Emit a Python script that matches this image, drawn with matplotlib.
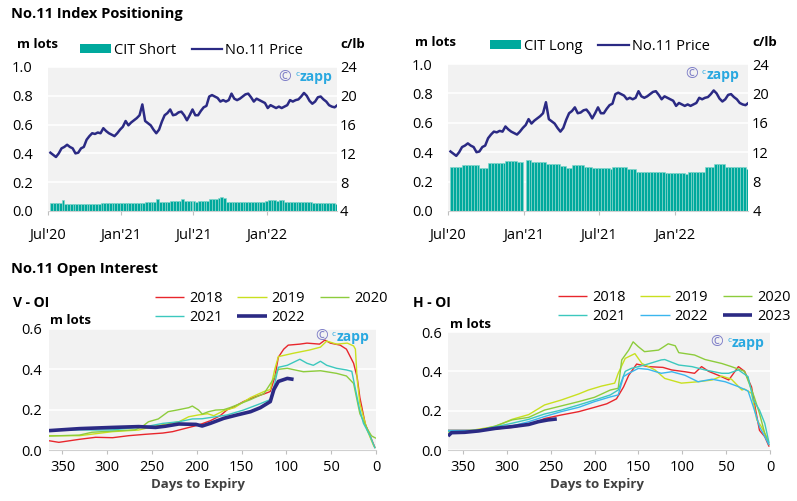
import numpy as np
import pandas as pd
import matplotlib
matplotlib.use("Agg")
import matplotlib.pyplot as plt
from matplotlib.patches import Patch

plt.rcParams["font.family"] = ["Open Sans", "DejaVu Sans"]

W, H = 797, 501

TEAL = "#00a99d"
TEAL_EDGE = "#86d6cc"
NAVY = "#2b2a84"
BG = "#f2f2f2"

# ---- Index positioning (weekly) ----
week_start = "2020-07-07"
cit_short = [
    0.058, 0.058, 0.058, 0.058, 0.075, 0.047, 0.047, 0.050, 0.047, 0.047,
    0.050, 0.047, 0.050, 0.050, 0.050, 0.052, 0.052, 0.052, 0.055, 0.058,
    0.058, 0.058, 0.058, 0.058, 0.058, 0.058, 0.058, 0.058, 0.058, 0.058,
    0.058, 0.058, 0.057, 0.057, 0.060, 0.060, 0.062, 0.065, 0.080, 0.062,
    0.062, 0.062, 0.065, 0.068, 0.068, 0.068, 0.068, 0.080, 0.070, 0.070,
    0.068, 0.066, 0.065, 0.070, 0.070, 0.070, 0.072, 0.080, 0.082, 0.085,
    0.090, 0.095, 0.092, 0.065, 0.065, 0.065, 0.065, 0.065, 0.065, 0.065,
    0.065, 0.065, 0.065, 0.065, 0.065, 0.065, 0.065, 0.068, 0.075, 0.075,
    0.075, 0.072, 0.075, 0.075, 0.065, 0.065, 0.065, 0.065, 0.065, 0.060,
    0.060, 0.060, 0.060, 0.060, 0.058, 0.058, 0.058, 0.058, 0.058, 0.058,
    0.058, 0.058, 0.050, 0.050,
]
cit_long = [
    0.300, 0.300, 0.300, 0.300, 0.310, 0.310, 0.310, 0.310, 0.310, 0.310,
    0.295, 0.295, 0.295, 0.325, 0.325, 0.325, 0.325, 0.325, 0.325, 0.340,
    0.340, 0.340, 0.340, 0.335, 0.335, 0.000, 0.347, 0.347, 0.330, 0.330,
    0.330, 0.330, 0.330, 0.320, 0.320, 0.320, 0.320, 0.320, 0.306, 0.306,
    0.290, 0.290, 0.310, 0.310, 0.310, 0.310, 0.300, 0.300, 0.300, 0.295,
    0.295, 0.295, 0.295, 0.295, 0.295, 0.285, 0.300, 0.300, 0.300, 0.300,
    0.300, 0.283, 0.283, 0.283, 0.268, 0.268, 0.268, 0.268, 0.268, 0.268,
    0.268, 0.268, 0.268, 0.268, 0.260, 0.260, 0.260, 0.260, 0.260, 0.260,
    0.260, 0.252, 0.268, 0.268, 0.268, 0.268, 0.268, 0.268, 0.297, 0.297,
    0.297, 0.320, 0.320, 0.320, 0.320, 0.300, 0.300, 0.300, 0.300, 0.300,
    0.300, 0.300, 0.288, 0.288,
]
price = [
    12.1, 11.8, 11.5, 12.0, 12.7, 12.9, 13.2, 12.9, 12.7, 12.0,
    12.1, 12.7, 12.9, 13.9, 14.4, 14.8, 14.7, 14.9, 14.8, 15.5,
    15.1, 14.8, 14.6, 14.4, 14.8, 15.3, 15.7, 16.5, 15.9, 16.3,
    16.6, 16.9, 17.3, 18.8, 16.5, 16.2, 15.9, 15.3, 14.8, 15.3,
    16.4, 17.3, 17.6, 18.1, 17.3, 17.4, 17.7, 17.8, 17.3, 16.6,
    17.3, 18.1, 17.3, 17.3, 17.9, 18.4, 18.6, 19.9, 20.1, 19.9,
    19.7, 19.2, 19.4, 19.2, 19.4, 20.3, 19.6, 19.4, 19.6, 19.9,
    20.2, 20.3, 19.8, 19.2, 19.6, 19.4, 19.2, 19.0, 18.3, 18.7,
    18.5, 18.3, 18.5, 18.3, 18.5, 18.7, 19.4, 19.2, 19.4, 19.5,
    19.9, 20.4, 20.0, 19.3, 18.9, 19.2, 19.8, 19.9, 19.5, 19.2,
    18.7, 18.5, 18.4, 18.7,
]
date_ticks = ["2020-07-01", "2021-01-01", "2021-07-01", "2022-01-01"]
date_labels = ["Jul'20", "Jan'21", "Jul'21", "Jan'22"]

# ---- V open interest ----
v2018_days = [365, 354, 331, 313, 294, 276, 257, 238, 227, 213, 198, 185, 174, 166, 158, 148, 136, 125, 118, 113, 109, 103, 98, 85, 77, 63, 57, 51, 40, 33, 25, 21, 18, 12, 7, 1]
v2018 = [0.046, 0.038, 0.053, 0.063, 0.061, 0.071, 0.078, 0.084, 0.091, 0.107, 0.124, 0.145, 0.17, 0.20, 0.215, 0.24, 0.262, 0.278, 0.29, 0.36, 0.46, 0.50, 0.52, 0.525, 0.53, 0.525, 0.545, 0.53, 0.52, 0.50, 0.43, 0.36, 0.26, 0.13, 0.074, 0.01]
v2019_days = [365, 331, 294, 265, 246, 220, 209, 198, 188, 181, 170, 158, 140, 125, 118, 113, 109, 92, 74, 62, 55, 44, 32, 25, 23, 21, 18, 10, 3, 1]
v2019 = [0.071, 0.071, 0.091, 0.099, 0.119, 0.14, 0.165, 0.174, 0.18, 0.17, 0.195, 0.21, 0.26, 0.29, 0.30, 0.40, 0.463, 0.48, 0.496, 0.51, 0.54, 0.525, 0.53, 0.516, 0.50, 0.35, 0.23, 0.10, 0.025, 0.01]
v2020_days = [365, 331, 317, 294, 269, 261, 254, 243, 232, 220, 209, 205, 198, 194, 187, 179, 170, 163, 140, 125, 114, 109, 99, 81, 62, 44, 33, 25, 18, 10, 5, 0]
v2020 = [0.069, 0.074, 0.088, 0.094, 0.10, 0.116, 0.14, 0.154, 0.19, 0.20, 0.21, 0.218, 0.198, 0.178, 0.19, 0.198, 0.20, 0.21, 0.25, 0.28, 0.355, 0.40, 0.405, 0.388, 0.393, 0.38, 0.367, 0.33, 0.18, 0.107, 0.07, 0.058]
v2021_days = [365, 331, 313, 294, 257, 238, 220, 205, 194, 179, 166, 148, 129, 118, 113, 109, 99, 85, 77, 70, 62, 55, 44, 33, 27, 19, 14, 7, 1]
v2021 = [0.10, 0.10, 0.099, 0.10, 0.116, 0.132, 0.14, 0.154, 0.155, 0.165, 0.174, 0.198, 0.23, 0.25, 0.33, 0.41, 0.42, 0.45, 0.43, 0.42, 0.44, 0.42, 0.405, 0.397, 0.39, 0.215, 0.132, 0.074, 0.008]
v2022_days = [365, 331, 294, 265, 246, 235, 220, 201, 194, 185, 170, 155, 140, 129, 118, 114, 109, 99, 92]
v2022 = [0.096, 0.106, 0.112, 0.116, 0.112, 0.118, 0.129, 0.127, 0.119, 0.132, 0.157, 0.174, 0.19, 0.21, 0.24, 0.30, 0.34, 0.355, 0.35]

# ---- H open interest ----
h2018_days = [367, 332, 294, 272, 257, 238, 218, 200, 186, 175, 167, 161, 152, 139, 122, 112, 97, 86, 78, 70, 59, 47, 36, 29, 21, 15, 12, 6, 1]
h2018 = [0.10, 0.10, 0.115, 0.132, 0.16, 0.178, 0.195, 0.217, 0.235, 0.26, 0.32, 0.38, 0.437, 0.424, 0.42, 0.407, 0.398, 0.39, 0.424, 0.40, 0.38, 0.356, 0.424, 0.40, 0.32, 0.17, 0.10, 0.068, 0.017]
h2019_days = [367, 340, 313, 294, 275, 257, 238, 218, 207, 192, 182, 177, 173, 165, 154, 146, 131, 120, 101, 82, 66, 55, 44, 32, 29, 21, 15, 10, 2]
h2019 = [0.093, 0.10, 0.12, 0.156, 0.18, 0.229, 0.254, 0.285, 0.305, 0.325, 0.335, 0.34, 0.39, 0.466, 0.49, 0.44, 0.407, 0.364, 0.34, 0.347, 0.356, 0.376, 0.36, 0.305, 0.31, 0.288, 0.153, 0.12, 0.05]
h2020_days = [367, 332, 313, 294, 275, 257, 238, 218, 200, 182, 173, 169, 161, 156, 150, 143, 127, 116, 108, 104, 86, 74, 55, 44, 29, 18, 12, 6, 1]
h2020 = [0.093, 0.10, 0.122, 0.153, 0.166, 0.203, 0.224, 0.246, 0.268, 0.305, 0.314, 0.458, 0.508, 0.55, 0.525, 0.50, 0.508, 0.54, 0.53, 0.495, 0.483, 0.46, 0.44, 0.424, 0.40, 0.27, 0.186, 0.085, 0.025]
h2021_days = [367, 332, 294, 275, 257, 238, 218, 200, 182, 173, 165, 158, 143, 124, 120, 104, 89, 74, 55, 47, 36, 25, 19, 12, 6, 1]
h2021 = [0.10, 0.10, 0.136, 0.156, 0.183, 0.203, 0.229, 0.254, 0.28, 0.305, 0.40, 0.415, 0.432, 0.458, 0.46, 0.432, 0.424, 0.407, 0.39, 0.39, 0.407, 0.373, 0.254, 0.203, 0.136, 0.034]
h2022_days = [367, 332, 294, 275, 257, 238, 218, 200, 182, 173, 167, 161, 150, 139, 124, 112, 97, 82, 66, 51, 36, 25, 19, 12, 5, 1]
h2022 = [0.097, 0.097, 0.122, 0.144, 0.17, 0.195, 0.217, 0.246, 0.27, 0.28, 0.373, 0.39, 0.415, 0.41, 0.39, 0.398, 0.38, 0.347, 0.36, 0.347, 0.322, 0.30, 0.22, 0.119, 0.06, 0.025]
h2023_days = [367, 363, 348, 332, 313, 294, 275, 264, 253, 243]
h2023 = [0.071, 0.088, 0.09, 0.097, 0.11, 0.119, 0.13, 0.144, 0.153, 0.158]

YEAR_COLORS = {
    "2018": "#e8262c",
    "2019": "#c9e01f",
    "2020": "#8dcc3c",
    "2021": "#3cc8be",
    "2022": "#3ab6ee",
}


def rect(x0, y0, x1, y1):
    return [x0 / W, 1 - y1 / H, (x1 - x0) / W, (y1 - y0) / H]


def ftext(fig, x, y, s, **kw):
    fig.text(x / W, 1 - y / H, s, **kw)


def style_axes(ax):
    ax.set_facecolor(BG)
    for side in ["top", "left", "right"]:
        ax.spines[side].set_visible(False)
    ax.spines["bottom"].set_color("#d0d0d0")
    ax.grid(axis="y", color="white", linewidth=1.2)
    ax.set_axisbelow(True)
    ax.tick_params(axis="x", colors="#bfbfbf", length=3, labelcolor="black", labelsize=10.5)
    ax.tick_params(axis="y", length=0, labelsize=10.5)


def watermark(fig, x, y):
    ftext(fig, x, y, "©", color="#7f7fc8", fontsize=11, va="center", ha="left")
    ftext(fig, x + 17, y - 3, "c", color="#29a8e0", fontsize=6, va="center", ha="left")
    ftext(fig, x + 22, y, "zapp", color="#29a8e0", fontsize=10, fontweight="bold", va="center", ha="left")


def positioning_panel(fig, box, values, label, legend_xy, lpad, rpad):
    dates = pd.date_range(week_start, periods=len(values), freq="7D")
    ax = fig.add_axes(box)
    style_axes(ax)
    ax.bar(dates, values, width=7, align="edge", color=TEAL, edgecolor=TEAL_EDGE, linewidth=0.5)
    ax.set_ylim(0, 1.0)
    ax.set_yticks([0, 0.2, 0.4, 0.6, 0.8, 1.0])
    ax.set_yticklabels([f"{v:.1f}" for v in ax.get_yticks()])
    ax.tick_params(axis="y", pad=lpad)
    ax.set_xlim(pd.Timestamp("2020-07-01"), pd.Timestamp("2022-06-27"))
    ax.set_xticks(pd.to_datetime(date_ticks))
    ax.set_xticklabels(date_labels)
    ax.tick_params(axis="x", pad=9)

    ax2 = ax.twinx()
    for side in ["top", "left", "right", "bottom"]:
        ax2.spines[side].set_visible(False)
    price_dates = pd.date_range(week_start, periods=len(price), freq="7D")
    ax2.plot(price_dates, price, color=NAVY, linewidth=1.8)
    ax2.set_ylim(4, 24)
    ax2.set_yticks([4, 8, 12, 16, 20, 24])
    ax2.tick_params(axis="y", length=0, labelsize=10.5, pad=rpad)

    handles = [Patch(facecolor=TEAL, edgecolor="none"),
               plt.Line2D([], [], color=NAVY, linewidth=1.6)]
    ax.legend(handles, [label, "No.11 Price"], loc="center left",
              bbox_to_anchor=(legend_xy[0] / W, 1 - legend_xy[1] / H),
              bbox_transform=fig.transFigure, ncol=2, frameon=False,
              fontsize=10.5, handlelength=2.1, handleheight=0.6,
              handletextpad=0.2, columnspacing=1.1, borderpad=0, borderaxespad=0)
    return ax


def oi_panel(fig, box, series, xmax, legend_xy, order, lpad, label_x):
    ax = fig.add_axes(box)
    style_axes(ax)
    lines = {}
    for name, days, vals, color, lw in series:
        (ln,) = ax.plot(days, vals, color=color, linewidth=lw, solid_capstyle="butt")
        lines[name] = ln
    ax.set_xlim(xmax, 0)
    ax.set_ylim(0, 0.6)
    ax.set_yticks([0, 0.2, 0.4, 0.6])
    ax.set_yticklabels(["0.0", "0.2", "0.4", "0.6"])
    ax.set_xticks([350, 300, 250, 200, 150, 100, 50, 0])
    ax.tick_params(axis="y", pad=lpad)
    ax.tick_params(axis="x", pad=4)
    ax.set_xlabel("Days to Expiry", fontsize=9.5, fontweight="bold", color="#404040")
    ax.xaxis.set_label_coords(label_x, -0.235)
    ax.legend([lines[k] for k in order], order, loc="center left",
              bbox_to_anchor=(legend_xy[0] / W, 1 - legend_xy[1] / H),
              bbox_transform=fig.transFigure, ncol=3, frameon=False,
              fontsize=10.5, handlelength=2.0, handletextpad=0.35,
              columnspacing=1.0, labelspacing=0.25, borderpad=0, borderaxespad=0)
    return ax


fig = plt.figure(figsize=(W / 100, H / 100), dpi=100)

ftext(fig, 11, 14, "No.11 Index Positioning", fontsize=10.5, fontweight="bold", va="center")
ftext(fig, 11, 269, "No.11 Open Interest", fontsize=10.5, fontweight="bold", va="center")

positioning_panel(fig, rect(48, 67, 337, 211), cit_short, "CIT Short", (80, 50), 11, 2)
ftext(fig, 17, 44, "m lots", fontsize=9.5, fontweight="bold", va="center")
ftext(fig, 340, 44, "c/lb", fontsize=9.5, fontweight="bold", va="center")
watermark(fig, 278, 77)

positioning_panel(fig, rect(448, 64, 748, 211), cit_long, "CIT Long", (490, 46), 11, 3)
ftext(fig, 415, 43, "m lots", fontsize=9.5, fontweight="bold", va="center")
ftext(fig, 752, 43, "c/lb", fontsize=9.5, fontweight="bold", va="center")
watermark(fig, 685, 75)

v_series = [
    ("2018", v2018_days, v2018, YEAR_COLORS["2018"], 1.0),
    ("2019", v2019_days, v2019, YEAR_COLORS["2019"], 1.0),
    ("2020", v2020_days, v2020, YEAR_COLORS["2020"], 1.0),
    ("2021", v2021_days, v2021, YEAR_COLORS["2021"], 1.0),
    ("2022", v2022_days, v2022, NAVY, 2.6),
]
oi_panel(fig, rect(49, 329, 376, 450), v_series, 365, (155, 308),
         ["2018", "2021", "2019", "2022", "2020"], 5, 0.456)
ftext(fig, 13, 303, "V - OI", fontsize=10, fontweight="bold", va="center")
ftext(fig, 50, 321, "m lots", fontsize=9.5, fontweight="bold", va="center")
watermark(fig, 315, 337)

h_series = [
    ("2018", h2018_days, h2018, YEAR_COLORS["2018"], 1.0),
    ("2019", h2019_days, h2019, YEAR_COLORS["2019"], 1.0),
    ("2020", h2020_days, h2020, YEAR_COLORS["2020"], 1.0),
    ("2021", h2021_days, h2021, YEAR_COLORS["2021"], 1.0),
    ("2022", h2022_days, h2022, YEAR_COLORS["2022"], 1.0),
    ("2023", h2023_days, h2023, NAVY, 2.6),
]
oi_panel(fig, rect(448, 332, 770, 450), h_series, 367, (558, 307),
         ["2018", "2021", "2019", "2022", "2020", "2023"], 4, 0.463)
ftext(fig, 413, 303, "H - OI", fontsize=10, fontweight="bold", va="center")
ftext(fig, 450, 325, "m lots", fontsize=9.5, fontweight="bold", va="center")
watermark(fig, 710, 343)

fig.savefig("out.png", dpi=100)
